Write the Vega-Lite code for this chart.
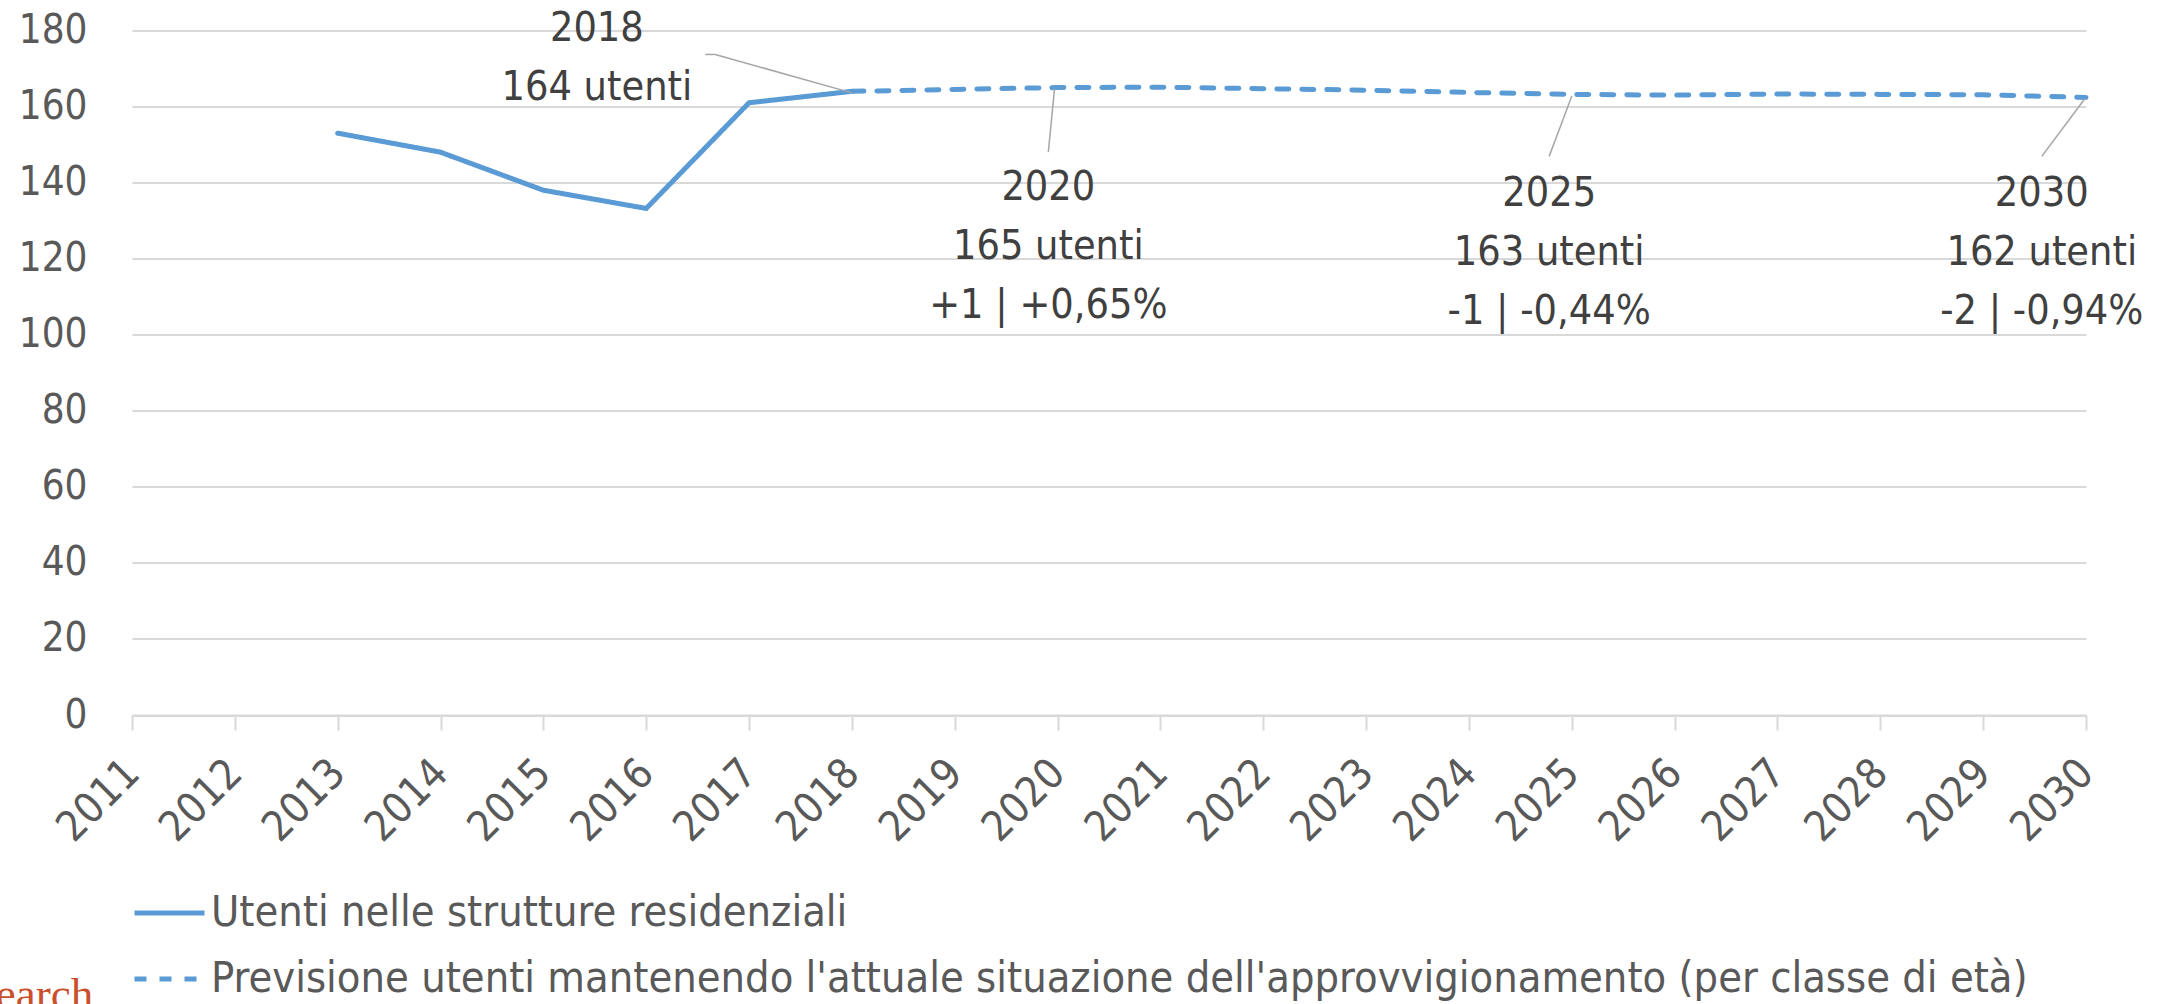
{
  "$schema": "https://vega.github.io/schema/vega-lite/v6.json",
  "autosize": {"type": "none"},
  "width": 1954,
  "height": 684.5,
  "padding": {"left": 132, "top": 30.5, "right": 90, "bottom": 289},
  "background": "white",
  "config": {
    "view": {"stroke": null},
    "font": "DejaVu Sans Condensed",
    "axis": {"labelFont": "DejaVu Sans Condensed", "labelColor": "#595959", "labelFontSize": 40, "title": null},
    "legend": {"labelFont": "DejaVu Sans Condensed"}
  },
  "datasets": {
    "series": [
      {"year": 2013, "value": 153, "serie": "Utenti nelle strutture residenziali"},
      {"year": 2014, "value": 148, "serie": "Utenti nelle strutture residenziali"},
      {"year": 2015, "value": 138, "serie": "Utenti nelle strutture residenziali"},
      {"year": 2016, "value": 133.2, "serie": "Utenti nelle strutture residenziali"},
      {"year": 2017, "value": 161, "serie": "Utenti nelle strutture residenziali"},
      {"year": 2018, "value": 164, "serie": "Utenti nelle strutture residenziali"},
      {"year": 2018, "value": 164, "serie": "Previsione utenti mantenendo l'attuale situazione dell'approvvigionamento (per classe di età)"},
      {"year": 2019, "value": 164.5, "serie": "Previsione utenti mantenendo l'attuale situazione dell'approvvigionamento (per classe di età)"},
      {"year": 2020, "value": 165, "serie": "Previsione utenti mantenendo l'attuale situazione dell'approvvigionamento (per classe di età)"},
      {"year": 2021, "value": 165.1, "serie": "Previsione utenti mantenendo l'attuale situazione dell'approvvigionamento (per classe di età)"},
      {"year": 2022, "value": 164.7, "serie": "Previsione utenti mantenendo l'attuale situazione dell'approvvigionamento (per classe di età)"},
      {"year": 2023, "value": 164.3, "serie": "Previsione utenti mantenendo l'attuale situazione dell'approvvigionamento (per classe di età)"},
      {"year": 2024, "value": 163.7, "serie": "Previsione utenti mantenendo l'attuale situazione dell'approvvigionamento (per classe di età)"},
      {"year": 2025, "value": 163.2, "serie": "Previsione utenti mantenendo l'attuale situazione dell'approvvigionamento (per classe di età)"},
      {"year": 2026, "value": 163.0, "serie": "Previsione utenti mantenendo l'attuale situazione dell'approvvigionamento (per classe di età)"},
      {"year": 2027, "value": 163.3, "serie": "Previsione utenti mantenendo l'attuale situazione dell'approvvigionamento (per classe di età)"},
      {"year": 2028, "value": 163.2, "serie": "Previsione utenti mantenendo l'attuale situazione dell'approvvigionamento (per classe di età)"},
      {"year": 2029, "value": 163.1, "serie": "Previsione utenti mantenendo l'attuale situazione dell'approvvigionamento (per classe di età)"},
      {"year": 2030, "value": 162.4, "serie": "Previsione utenti mantenendo l'attuale situazione dell'approvvigionamento (per classe di età)"}
    ],
    "leaders": [
      {"xa": 2016.574, "ya": 173.7, "xb": 2016.671, "yb": 173.7},
      {"xa": 2016.671, "ya": 173.7, "xb": 2018.0, "yb": 163.6},
      {"xa": 2019.97, "ya": 164.6, "xb": 2019.91, "yb": 148.0},
      {"xa": 2025.0, "ya": 162.8, "xb": 2024.78, "yb": 146.9},
      {"xa": 2029.99, "ya": 162.1, "xb": 2029.57, "yb": 146.9}
    ],
    "notes": [
      {"x": 2015.52, "y": 180.3, "label": "2018\n164 utenti"},
      {"x": 2019.91, "y": 138.7, "label": "2020\n165 utenti\n+1 | +0,65%"},
      {"x": 2024.78, "y": 137.1, "label": "2025\n163 utenti\n-1 | -0,44%"},
      {"x": 2029.57, "y": 137.1, "label": "2030\n162 utenti\n-2 | -0,94%"}
    ],
    "source": [
      {"x": 2009.02, "y": -77.4, "label": "Research"}
    ]
  },
  "layer": [
    {
      "data": {"name": "series"},
      "mark": {"type": "line", "strokeWidth": 5, "strokeCap": "round"},
      "encoding": {
        "x": {
          "field": "year", "type": "quantitative",
          "scale": {"domain": [2011, 2030], "nice": false, "zero": false},
          "axis": {
            "values": [2011,2012,2013,2014,2015,2016,2017,2018,2019,2020,2021,2022,2023,2024,2025,2026,2027,2028,2029,2030],
            "format": "d", "labelAngle": -45, "labelAlign": "right", "labelBaseline": "middle",
            "labelFontSize": 42, "labelPadding": 36, "grid": false, "domainColor": "#d9d9d9", "domainWidth": 2,
            "ticks": true, "tickColor": "#d9d9d9", "tickWidth": 2, "tickSize": 15, "labelOverlap": false
          }
        },
        "y": {
          "field": "value", "type": "quantitative",
          "scale": {"domain": [0, 180], "nice": false},
          "axis": {
            "values": [0,20,40,60,80,100,120,140,160,180],
            "grid": true, "gridColor": "#d9d9d9", "gridWidth": 2,
            "domain": false, "ticks": false, "labelPadding": 45
          }
        },
        "color": {
          "field": "serie", "type": "nominal",
          "scale": {
            "domain": ["Utenti nelle strutture residenziali", "Previsione utenti mantenendo l'attuale situazione dell'approvvigionamento (per classe di età)"],
            "range": ["#5B9BD5", "#5B9BD5"]
          },
          "legend": {
            "orient": "none", "legendX": 0, "legendY": 845, "direction": "vertical", "title": null,
            "symbolType": "stroke", "symbolSize": 4900, "symbolStrokeWidth": 5,
            "labelFontSize": 43, "labelColor": "#595959", "labelLimit": 0, "rowPadding": 6, "labelOffset": 4
          }
        },
        "strokeDash": {
          "field": "serie", "type": "nominal",
          "scale": {
            "domain": ["Utenti nelle strutture residenziali", "Previsione utenti mantenendo l'attuale situazione dell'approvvigionamento (per classe di età)"],
            "range": [[1, 0], [12, 13]]
          },
          "legend": null
        }
      }
    },
    {
      "data": {"name": "leaders"},
      "mark": {"type": "rule", "color": "#a6a6a6", "strokeWidth": 1.5},
      "encoding": {
        "x": {"field": "xa", "type": "quantitative"},
        "x2": {"field": "xb"},
        "y": {"field": "ya", "type": "quantitative"},
        "y2": {"field": "yb"}
      }
    },
    {
      "data": {"name": "notes"},
      "mark": {"type": "text", "align": "center", "baseline": "middle", "lineBreak": "\n", "lineHeight": 59, "fontSize": 41, "color": "#404040", "font": "DejaVu Sans Condensed"},
      "encoding": {
        "x": {"field": "x", "type": "quantitative"},
        "y": {"field": "y", "type": "quantitative"},
        "text": {"field": "label"}
      }
    },
    {
      "data": {"name": "source"},
      "mark": {"type": "text", "align": "left", "baseline": "alphabetic", "fontSize": 45, "color": "#c9502a", "font": "Liberation Serif", "clip": false},
      "encoding": {
        "x": {"field": "x", "type": "quantitative"},
        "y": {"field": "y", "type": "quantitative"},
        "text": {"field": "label"}
      }
    }
  ]
}
